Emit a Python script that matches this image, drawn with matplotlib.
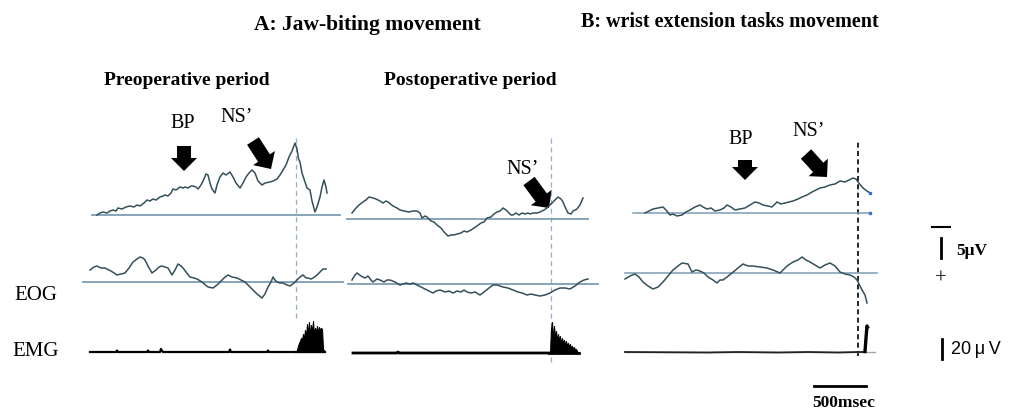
import matplotlib
matplotlib.use("Agg")
import matplotlib.pyplot as plt
from matplotlib.patches import FancyArrow

# ---------------- data (time in ms relative to movement onset, amplitude in uV, negative up) -------------
pre_bp_t = [-1990,-1960,-1930,-1890,-1860,-1830,-1800,-1780,-1740,-1700,-1660,-1620,-1590,-1560,-1520,-1490,
            -1460,-1430,-1400,-1360,-1330,-1310,-1280,-1250,-1230,-1200,-1160,-1130,-1110,-1080,-1050,-1030,
            -1000,-980,-950,-920,-900,-880,-860,-840,-810,-790,-760,-730,-700,-660,-630,-600,-560,-530,-500,
            -470,-440,-410,-380,-340,-310,-260,-230,-190,-160,-130,-100,-70,-40,-10,10,25,40,60,80,110,140,
            160,190,210,240,260,280,300,310]
pre_bp_v = [0,0.5,0.75,0.5,1.0,1.25,1.0,1.75,1.5,2.0,2.25,2.0,2.5,2.25,3.0,3.75,3.5,4,3.75,4.5,4.75,5,4.75,
            5.5,6.5,6.25,7,6.75,7,6.75,7.25,7.25,7.0,6.5,7.5,9.0,10.25,10,8,6.5,5.5,7.5,9.5,10.5,10,10.75,9.5,
            8,6.75,8,9.5,10.5,11.25,10.5,8.5,7.5,8,8.25,8.5,9,10,11.25,12.5,14.5,16,18,16.5,14,13.25,10.5,9,
            6.75,6.25,3.5,0.75,2,4.5,7,8.75,7,5.5]

post_bp_t = [-1990,-1950,-1920,-1880,-1850,-1820,-1780,-1750,-1710,-1680,-1650,-1630,-1580,-1540,-1510,-1470,
             -1420,-1380,-1340,-1310,-1290,-1260,-1240,-1200,-1170,-1140,-1100,-1070,-1030,-1000,-970,-940,
             -900,-870,-840,-800,-770,-740,-700,-670,-640,-600,-570,-540,-510,-480,-450,-430,-400,-380,-350,
             -320,-290,-260,-230,-210,-180,-140,-110,-70,-40,-10,30,70,100,120,150,170,200,220,260,290,320]
post_bp_v = [1.5,2.75,3.5,4.25,4.75,5.5,5.25,5.0,4.5,4,4.5,4.25,3.25,2.75,2.25,2.0,1.75,2.0,2,1.5,0.25,0.75,
             0.5,-0.5,-0.75,-1.5,-2.25,-3.25,-4.25,-4.0,-4.0,-3.75,-3.5,-3.0,-3.25,-2.75,-2.25,-1.75,-1.0,
             -0.75,0.25,0.5,1.25,1.75,2.0,2.75,2.25,1.75,1.0,1,1.5,1.0,1.5,1.25,1.5,1.25,1.5,1.5,1.75,2.25,
             2.75,3.5,4.5,5.5,5.0,4.25,2.5,1.5,1.25,2,2.5,3.5,5.25]

b_bp_t = [-2130,-2090,-2050,-2000,-1950,-1920,-1880,-1850,-1810,-1760,-1720,-1680,-1630,-1580,-1550,-1510,
          -1470,-1430,-1380,-1340,-1310,-1270,-1230,-1180,-1130,-1080,-1030,-990,-950,-900,-860,-810,-770,
          -730,-690,-650,-600,-560,-510,-460,-420,-380,-330,-280,-230,-180,-130,-90,-50,-20,0,50,90,120]
b_bp_v = [0,0.5,1,1.25,1.5,0.75,-0.5,-0.25,-0.75,-0.5,0.25,0.75,1.5,2,1.5,1,1.25,0.5,0.75,1.25,2,1.5,0.75,
          1.0,1.25,2.0,2.75,2.5,2,1.75,1.5,2.75,2.25,2.5,2.75,3,3.5,4,4.5,5.25,5.75,6.25,6.5,7,7.25,8,7.75,
          8.25,8.75,8.5,7.75,6.25,5.5,5]

pre_eog_t = [-2060,-2020,-1990,-1950,-1910,-1850,-1790,-1750,-1710,-1670,-1630,-1590,-1560,-1530,-1510,-1480,
             -1440,-1400,-1370,-1340,-1310,-1280,-1240,-1210,-1180,-1150,-1130,-1100,-1060,-1020,-990,-940,
             -880,-830,-790,-760,-720,-680,-640,-590,-550,-510,-470,-430,-390,-340,-310,-280,-250,-230,-210,
             -190,-160,-130,-90,-60,-20,10,40,70,100,120,150,170,210,240,270,300]
pre_eog_v = [3,3.75,4,3.5,3.5,2.75,1.75,2.0,2.25,3.5,5,5.75,6.25,6.0,5.5,4.0,2.25,3.0,3.75,4,3.75,3.5,1.75,
             3.0,4.5,4.0,3.5,2.5,1.25,1.0,0.75,0,-1.25,-1.5,-0.75,0,1.0,1.75,1.25,1,0.5,0,-1.0,-2,-3.0,-4,
             -3.0,-1.25,0,1.25,0.5,0,-0.25,-0.25,-0.75,-1,-0.25,0.5,1.25,1.75,1.0,1,0.75,1,1.75,2.5,3.25,3.25]

post_eog_t = [-1990,-1960,-1940,-1900,-1860,-1830,-1800,-1780,-1740,-1710,-1670,-1640,-1610,-1560,-1510,-1450,
              -1410,-1380,-1320,-1280,-1240,-1180,-1150,-1110,-1060,-1020,-980,-940,-900,-870,-840,-800,-760,
              -710,-670,-620,-580,-540,-480,-430,-380,-330,-290,-240,-200,-160,-110,-60,-10,40,90,140,190,
              240,290,330,370]
post_eog_v = [1,2.25,2.75,2.0,1.5,2.0,1.0,0.5,1.25,1,0.5,1.0,1,0.5,-0.25,0.25,0.0,0.25,-0.5,-1.0,-1.5,-2.25,
              -1.75,-1.5,-2.0,-1.75,-2.25,-1.75,-2.0,-1.5,-2,-2.25,-2.0,-2.75,-2.0,-1.0,-0.25,-0.25,-0.75,-1.0,
              -1.5,-2.0,-2.25,-2.75,-2.5,-2.75,-3,-2.75,-2.25,-1.5,-1,-1.0,-1.25,-0.5,0.5,1.0,1.25]

b_eog_t = [-2330,-2280,-2230,-2190,-2150,-2100,-2050,-2000,-1950,-1900,-1850,-1800,-1760,-1700,-1680,-1660,
           -1620,-1580,-1540,-1500,-1450,-1410,-1380,-1350,-1310,-1260,-1200,-1150,-1100,-1050,-980,-910,-850,
           -780,-740,-710,-650,-600,-560,-520,-480,-430,-380,-330,-280,-230,-180,-130,-80,-40,-10,40,70,90]
b_eog_v = [-1.5,-0.75,-0.25,-1.0,-2.25,-3.25,-4,-3.5,-2.25,-0.75,0.75,1.75,2.5,2.25,1.25,0.25,0.75,0.5,0,-1,
           -1.75,-2.5,-1.75,-1.75,-1.0,0,1.25,2.25,1.75,1.75,1.5,1.25,0.75,0,1.0,1.75,2.75,3.25,4,3.25,2.75,
           2.0,1.25,2.0,2.5,1.75,0.25,-0.25,-0.5,-1.0,-1.75,-4.25,-5.5,-7.5]

pre_emg_t = [-2060,-1800,-1790,-1780,-1490,-1480,-1470,-1360,-1350,-1340,-1330,-670,-660,-650,-290,-280,-270,0]
pre_emg_v = [0,0,1.5,0,0,1.5,0,0,3,1,0,0,2.5,0,0,1.5,0,0]
pre_burst_t = list(range(10, 280, 10)) + [290]
pre_burst_v = [2,6,9,11,14,12,18,13,22,15,28,17,30,14,27,19,31,16,24,20,26,18,25,22,24,23,3,0]

post_emg_t = [-1980,-1540,-1530,-1520,-20]
post_emg_v = [0,0,1,0,0]
post_burst_t = list(range(-10, 280, 10))
post_burst_v = [0,24,31,12,27,15,22,11,19,13,17,9,15,10,13,8,12,7,10,6,9,5,7,4,6,3,4,2,0]

b_emg_t = [-2330,-1500,-1200,-800,-500,-200,0,60,70,80,90,95]
b_emg_v = [0,-0.5,0,-0.5,0,-0.5,0,0,0.5,14,26,25]

# ---------------- figure ----------------
W, H = 1009, 412
fig = plt.figure(figsize=(W / 100, H / 100), dpi=100)
fig.patch.set_facecolor("white")
SERIF = ["Liberation Serif", "DejaVu Serif"]

ax0 = fig.add_axes([0, 0, 1, 1])
ax0.set_xlim(0, W)
ax0.set_ylim(H, 0)
ax0.axis("off")

TRACE = "#34505c"
BASE = "#7d9db3"
ADASH = "#90b0c8"


def panel(onset_px, base_px, uv_per_px, ms_per_px=10.0):
    ax = fig.add_axes([0, 0, 1, 1], facecolor="none")
    ax.set_xlim(-onset_px * ms_per_px, (W - onset_px) * ms_per_px)
    ax.set_ylim(-(H - base_px) * uv_per_px, base_px * uv_per_px)
    ax.axis("off")
    return ax


def onset_line(ax, y_top_px, y_bot_px, color, lw, dashes):
    ax.axvline(0, ymin=1 - y_bot_px / H, ymax=1 - y_top_px / H, color=color, lw=lw, dashes=dashes, zorder=1)


# A preoperative
a_pre_bp = panel(296, 215, 0.25)
a_pre_bp.plot([-2040, 440], [0, 0], color=BASE, lw=1.3)
a_pre_bp.plot(pre_bp_t, pre_bp_v, color=TRACE, lw=1.1)
onset_line(a_pre_bp, 138, 318, ADASH, 0.9, (4, 3))
a_pre_eog = panel(296, 282, 0.25)
a_pre_eog.plot([-2130, 470], [0, 0], color=BASE, lw=1.3)
a_pre_eog.plot(pre_eog_t, pre_eog_v, color=TRACE, lw=1.1)
a_pre_emg = panel(296, 352, 1.0)
a_pre_emg.plot(pre_emg_t, pre_emg_v, color="black", lw=1.6)
a_pre_emg.fill_between(pre_burst_t, 0, pre_burst_v, color="black", lw=0.8)
a_pre_emg.plot([0, 290], [0, 0], color="black", lw=1.6)

# A postoperative
a_post_bp = panel(551, 219, 0.25)
a_post_bp.plot([-2040, 370], [0, 0], color=BASE, lw=1.3)
a_post_bp.plot(post_bp_t, post_bp_v, color=TRACE, lw=1.1)
onset_line(a_post_bp, 138, 362, ADASH, 0.9, (4, 3))
a_post_eog = panel(551, 284, 0.25)
a_post_eog.plot([-2030, 470], [0, 0], color=BASE, lw=1.3)
a_post_eog.plot(post_eog_t, post_eog_v, color=TRACE, lw=1.1)
a_post_emg = panel(551, 353, 1.0)
a_post_emg.plot(post_emg_t, post_emg_v, color="black", lw=2.0)
a_post_emg.fill_between(post_burst_t, 0, post_burst_v, color="black", lw=0.8)
a_post_emg.plot([-20, 280], [0, 0], color="black", lw=2.0)

# B wrist extension
b_bp = panel(858, 213, 0.25)
b_bp.plot([-2250, 120], [0, 0], color=BASE, lw=1.1)
b_bp.plot(b_bp_t, b_bp_v, color=TRACE, lw=1.1)
b_bp.plot([120, 120], [0, b_bp_v[-1]], ls="none", marker="s", ms=2, color="#3a6fd0")
onset_line(b_bp, 140, 356, "black", 1.2, (3, 2))
b_eog = panel(858, 273, 0.25)
b_eog.plot([-2330, 190], [0, 0], color=BASE, lw=1.1)
b_eog.plot(b_eog_t, b_eog_v, color=TRACE, lw=1.1)
b_emg = panel(858, 352, 1.0)
b_emg.plot([-2330, 170], [0, 0], color="#9aa7ae", lw=1.0)
b_emg.plot(b_emg_t, b_emg_v, color="#222222", lw=1.3)
b_emg.plot(b_emg_t[-4:], b_emg_v[-4:], color="black", lw=2.4)

# scale bars (drawn in data units of the B panels)
b_eog.plot([830, 830], [3.75, 8.75], color="black", lw=2.0)          # 5 uV
b_emg.plot([840, 840], [-7, 13], color="black", lw=2.0)              # 20 uV
b_emg.plot([-440, 80], [-34, -34], color="black", lw=2.0)            # 500 ms

# polarity markers / labels
ax0.plot([932, 950], [227, 227], color="black", lw=1.5)
ax0.text(941, 279, "+", ha="center", va="center", fontsize=15, family=SERIF, color="black")
ax0.text(956, 251, "5\u03bcV", ha="left", va="center", fontsize=12.5, family=SERIF, weight="bold")
ax0.text(951, 350, "20\u2009\u03bc\u2009V", ha="left", va="center", fontsize=13,
         family=["Liberation Sans", "DejaVu Sans"])
ax0.text(844, 403, "500msec", ha="center", va="center", fontsize=12.5, family=SERIF, weight="bold")

# titles
ax0.text(367, 25, "A: Jaw-biting movement", ha="center", va="center", fontsize=15.5, family=SERIF, weight="bold")
ax0.text(730, 22, "B: wrist extension tasks movement", ha="center", va="center", fontsize=14.5,
         family=SERIF, weight="bold")
ax0.text(187, 80, "Preoperative period", ha="center", va="center", fontsize=14, family=SERIF, weight="bold")
ax0.text(470, 80, "Postoperative period", ha="center", va="center", fontsize=14, family=SERIF, weight="bold")

ax0.text(36, 295, "EOG", ha="center", va="center", fontsize=15, family=SERIF)
ax0.text(36, 352, "EMG", ha="center", va="center", fontsize=15, family=SERIF)

# BP / NS' labels and arrows
ax0.text(183, 123, "BP", ha="center", va="center", fontsize=14.5, family=SERIF)
ax0.text(237, 117, "NS\u2019", ha="center", va="center", fontsize=14.5, family=SERIF)
ax0.text(523, 169, "NS\u2019", ha="center", va="center", fontsize=14.5, family=SERIF)
ax0.text(741, 140, "BP", ha="center", va="center", fontsize=14.5, family=SERIF)
ax0.text(809, 132, "NS\u2019", ha="center", va="center", fontsize=14.5, family=SERIF)

arrows = [((184, 146), (184, 171)),
          ((253, 141), (271, 169)),
          ((529, 181), (549, 208)),
          ((745, 160), (745, 180)),
          ((806, 154), (827, 177))]
for (x0, y0), (x1, y1) in arrows:
    ax0.add_patch(FancyArrow(x0, y0, x1 - x0, y1 - y0, width=14, head_width=26, head_length=13,
                             length_includes_head=True, color="black", lw=0))

fig.savefig("out.png", dpi=100, facecolor="white")
